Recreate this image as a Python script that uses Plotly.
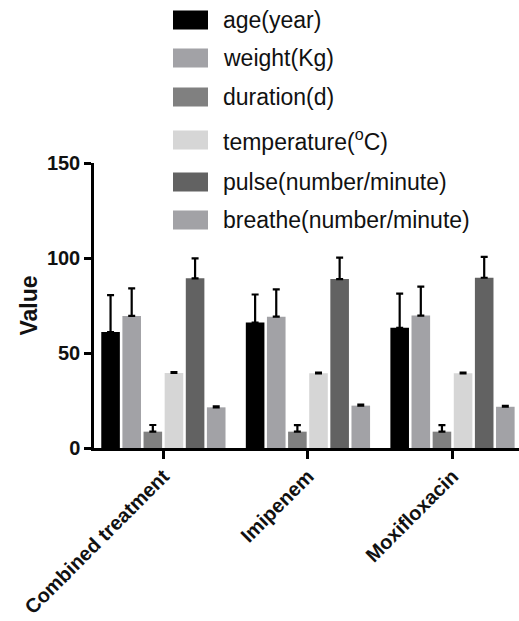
import plotly.graph_objects as go

categories = ["Combined treatment", "Imipenem", "Moxifloxacin"]
series_names = ["age(year)", "weight(Kg)", "duration(d)", "temperature(<sup>o</sup>C)",
                "pulse(number/minute)", "breathe(number/minute)"]
age = [61, 66, 63.3]
age_err = [19.5, 14.8, 18]
weight = [69.5, 69.1, 69.7]
weight_err = [14.5, 14.4, 15.2]
duration = [8.6, 8.6, 8.6]
duration_err = [3.5, 3.4, 3.4]
temperature = [39.5, 39.3, 39.3]
temperature_err = [0.4, 0.4, 0.4]
pulse = [89.3, 88.9, 89.6]
pulse_err = [10.5, 11.3, 11]
breathe = [21.4, 22.3, 21.7]
breathe_err = [0.5, 0.5, 0.5]
y_ticks = [0, 50, 100, 150]

values = [age, weight, duration, temperature, pulse, breathe]
errors = [age_err, weight_err, duration_err, temperature_err, pulse_err, breathe_err]
colors = ["#000000", "#a2a2a6", "#808080", "#d6d6d6", "#626262", "#a2a2a6"]

W, H = 519, 621
ML, MR, MT, MB = 94, 0, 163, 173
PW, PH = W - ML - MR, H - MT - MB

fig = go.Figure()
for name, v, e, c in zip(series_names, values, errors, colors):
    fig.add_trace(go.Bar(
        x=categories, y=v, name=name, marker=dict(color=c, line=dict(width=0)),
        error_y=dict(type="data", array=e, arrayminus=[0] * len(e), symmetric=False,
                     color="#000000", thickness=2.2, width=3.5),
        showlegend=False,
    ))

def px_x(px):
    return (px - ML) / PW

def px_y(py):
    return (H - MB - py) / PH

shapes = []
annotations = []
row_centers = [20, 58, 97, 140, 182, 220]
for name, c, yc in zip(series_names, colors, row_centers):
    shapes.append(dict(type="rect", xref="paper", yref="paper",
                       x0=px_x(173), x1=px_x(208), y0=px_y(yc + 9.5), y1=px_y(yc - 9.5),
                       fillcolor=c, line=dict(width=0)))
    annotations.append(dict(xref="paper", yref="paper", x=px_x(221), y=px_y(yc),
                            xanchor="left", yanchor="middle", text=name, showarrow=False,
                            font=dict(family="Liberation Sans, Arial", size=23, color="#111111")))

fig.update_layout(
    width=W, height=H,
    margin=dict(l=ML, r=MR, t=MT, b=MB, autoexpand=False),
    paper_bgcolor="white", plot_bgcolor="white",
    barmode="group", bargap=0.123, bargroupgap=0.12,
    shapes=shapes, annotations=annotations,
    font=dict(family="Liberation Sans, Arial", color="#111111"),
)
fig.update_xaxes(
    range=[-0.48, 2.46], showline=True, linecolor="#000000", linewidth=2.5,
    ticks="outside", ticklen=8, tickwidth=2.5, tickcolor="#000000",
    tickangle=-45, showgrid=False, zeroline=False, automargin=False,
    ticklabelstandoff=-2,
    tickfont=dict(size=20, weight="bold", color="#111111"),
)
fig.update_yaxes(
    range=[0, 150], tickvals=y_ticks, showline=True, linecolor="#000000", linewidth=2.5,
    ticks="outside", ticklen=7, tickwidth=2.5, tickcolor="#000000",
    showgrid=False, zeroline=False, automargin=False,
    tickfont=dict(size=20, weight="bold", color="#111111"),
    title=dict(text="Value", font=dict(size=23, weight="bold", color="#111111"), standoff=3),
)
fig.write_html("out.html", config={"displayModeBar": False},
               post_script="document.body.style.margin='0';document.body.style.overflow='hidden';")
